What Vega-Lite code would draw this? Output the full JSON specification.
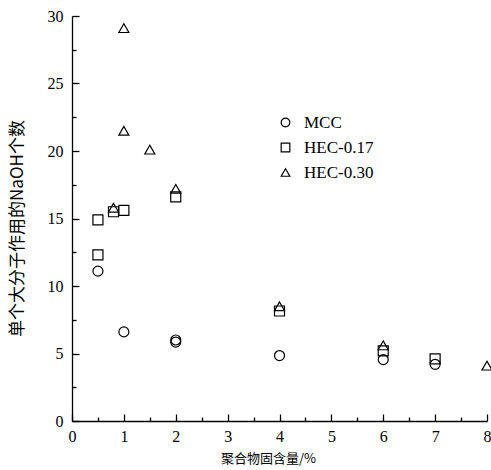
{
  "$schema": "https://vega.github.io/schema/vega-lite/v6.json",
  "width": 415,
  "height": 405,
  "autosize": {"type": "none"},
  "padding": {"left": 72, "top": 16, "right": 4, "bottom": 49},
  "background": "white",
  "config": {
    "view": {"stroke": null},
    "axis": {"domainColor": "black", "domainWidth": 1.3, "labelColor": "black", "titleColor": "black", "grid": false}
  },
  "data": {
    "values": [
      {"x": 0.5, "y": 11.1, "s": "MCC"},
      {"x": 1, "y": 6.6, "s": "MCC"},
      {"x": 2, "y": 5.85, "s": "MCC"},
      {"x": 2, "y": 6.0, "s": "MCC"},
      {"x": 4, "y": 4.85, "s": "MCC"},
      {"x": 6, "y": 4.55, "s": "MCC"},
      {"x": 7, "y": 4.2, "s": "MCC"},
      {"x": 0.5, "y": 12.3, "s": "HEC-0.17"},
      {"x": 0.5, "y": 14.9, "s": "HEC-0.17"},
      {"x": 0.8, "y": 15.5, "s": "HEC-0.17"},
      {"x": 1, "y": 15.6, "s": "HEC-0.17"},
      {"x": 2, "y": 16.6, "s": "HEC-0.17"},
      {"x": 4, "y": 8.15, "s": "HEC-0.17"},
      {"x": 6, "y": 5.2, "s": "HEC-0.17"},
      {"x": 7, "y": 4.6, "s": "HEC-0.17"},
      {"x": 1, "y": 29.1, "s": "HEC-0.30"},
      {"x": 1, "y": 21.5, "s": "HEC-0.30"},
      {"x": 1.5, "y": 20.1, "s": "HEC-0.30"},
      {"x": 2, "y": 17.2, "s": "HEC-0.30"},
      {"x": 0.8, "y": 15.8, "s": "HEC-0.30"},
      {"x": 4, "y": 8.5, "s": "HEC-0.30"},
      {"x": 6, "y": 5.6, "s": "HEC-0.30"},
      {"x": 8, "y": 4.1, "s": "HEC-0.30"}
    ]
  },
  "layer": [
    {
      "mark": {"type": "point", "opacity": 0},
      "encoding": {
        "x": {
          "field": "x", "type": "quantitative",
          "scale": {"domain": [0, 8], "nice": false, "zero": true},
          "axis": {"orient": "bottom", "offset": -4, "values": [0.5, 1.5, 2.5, 3.5, 4.5, 5.5, 6.5, 7.5], "ticks": true, "tickSize": 4, "tickColor": "black", "tickWidth": 1.3, "labels": false, "domain": false, "title": null}
        },
        "y": {
          "field": "y", "type": "quantitative",
          "scale": {"domain": [0, 30], "nice": false},
          "axis": {"orient": "left", "offset": -4, "values": [2.5, 7.5, 12.5, 17.5, 22.5, 27.5], "ticks": true, "tickSize": 4, "tickColor": "black", "tickWidth": 1.3, "labels": false, "domain": false, "title": null}
        }
      }
    },
    {
      "mark": {"type": "point", "opacity": 0},
      "encoding": {
        "x": {
          "field": "x", "type": "quantitative",
          "scale": {"domain": [0, 8], "nice": false, "zero": true},
          "axis": {"orient": "bottom", "offset": -7, "values": [0, 1, 2, 3, 4, 5, 6, 7, 8], "ticks": true, "tickSize": 7, "tickColor": "black", "tickWidth": 1.3, "labels": false, "domain": false, "title": null}
        },
        "y": {
          "field": "y", "type": "quantitative",
          "scale": {"domain": [0, 30], "nice": false},
          "axis": {"orient": "left", "offset": -7, "values": [0, 5, 10, 15, 20, 25, 30], "ticks": true, "tickSize": 7, "tickColor": "black", "tickWidth": 1.3, "labels": false, "domain": false, "title": null}
        }
      }
    },
    {
      "mark": {"type": "point", "filled": false, "color": "black", "strokeWidth": 1.2, "size": 100, "opacity": 1},
      "encoding": {
        "x": {
          "field": "x", "type": "quantitative",
          "scale": {"domain": [0, 8], "nice": false, "zero": true},
          "axis": {
            "orient": "bottom",
            "title": "聚合物固含量/%",
            "titleFont": "Noto Sans CJK SC", "titleFontSize": 13, "titleFontWeight": "normal", "titlePadding": 8, "titleX": 196,
            "values": [0, 1, 2, 3, 4, 5, 6, 7, 8],
            "format": "d", "ticks": false,
            "labelFont": "Liberation Serif", "labelFontSize": 16, "labelPadding": 7,
            "labelFlush": false, "labelOverlap": false
          }
        },
        "y": {
          "field": "y", "type": "quantitative",
          "scale": {"domain": [0, 30], "nice": false},
          "axis": {
            "orient": "left",
            "title": "单个大分子作用的NaOH个数",
            "titleFont": "Noto Sans CJK SC", "titleFontSize": 17, "titleFontWeight": "normal", "titlePadding": 21, "titleY": 212,
            "values": [0, 5, 10, 15, 20, 25, 30],
            "format": "d", "ticks": false,
            "labelFont": "Liberation Serif", "labelFontSize": 16, "labelPadding": 9,
            "labelFlush": false, "labelOverlap": false
          }
        },
        "shape": {
          "field": "s", "type": "nominal",
          "scale": {"domain": ["MCC", "HEC-0.17", "HEC-0.30"], "range": ["circle", "square", "triangle-up"]},
          "legend": {
            "title": null, "orient": "none", "legendX": 205, "legendY": 98,
            "labelFont": "Liberation Serif", "labelFontSize": 17, "labelColor": "black",
            "symbolStrokeColor": "black", "symbolFillColor": "transparent", "symbolStrokeWidth": 1.2, "symbolSize": 75,
            "rowPadding": 7, "labelOffset": 10
          }
        }
      }
    }
  ],
  "resolve": {"axis": {"x": "independent", "y": "independent"}}
}
